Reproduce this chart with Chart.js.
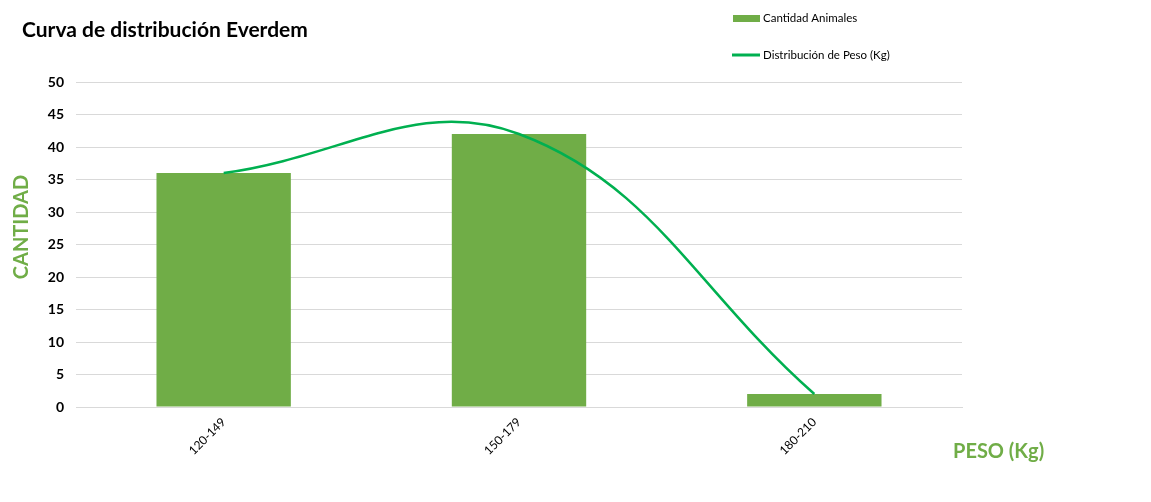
<!DOCTYPE html>
<html>
<head>
<meta charset="utf-8">
<script src="https://cdn.jsdelivr.net/npm/chart.js@4"></script>
<style>
  html, body { margin: 0; padding: 0; background: #fff; }
  #wrap { width: 1151px; height: 502px; position: relative; }
</style>
</head>
<body>
<div id="wrap"><canvas id="curvaChart" width="1151" height="502"></canvas></div>
<script>
// Datos del grafico
const categorias = ['120-149', '150-179', '180-210'];
const cantidadAnimales = [36, 42, 2];
const distribucionPeso = [36, 42, 2];
const yTicks = [0, 5, 10, 15, 20, 25, 30, 35, 40, 45, 50];

const verde = '#70AD47';
const verdeLinea = '#00B050';
const fuente = 'Lato, "Liberation Sans", sans-serif';

// Textos fuera del area: titulo, leyenda, titulos de ejes
const textosPlugin = {
    id: 'textos',
    afterDraw(chart) {
        const c = chart.ctx;
        c.save();
        c.textBaseline = 'middle';
        c.textAlign = 'left';

        c.fillStyle = '#000';
        c.font = 'bold 21px ' + fuente;
        c.fillText('Curva de distribución Everdem', 22, 30);

        // leyenda
        c.fillStyle = verde;
        c.fillRect(733, 15, 27, 7);
        c.strokeStyle = verdeLinea;
        c.lineWidth = 3;
        c.beginPath();
        c.moveTo(732, 55);
        c.lineTo(760, 55);
        c.stroke();
        c.fillStyle = '#000';
        c.font = '11.5px ' + fuente;
        c.fillText(chart.data.datasets[0].label, 763, 18);
        c.fillText(chart.data.datasets[1].label, 763, 55);

        // titulos de ejes
        c.fillStyle = verde;
        c.font = 'bold 20px ' + fuente;
        c.fillText('PESO (Kg)', 953, 452);
        c.translate(22, 227);
        c.rotate(-Math.PI / 2);
        c.textAlign = 'center';
        c.fillText('CANTIDAD', 0, 0);
        c.restore();
    }
};

const ctx = document.getElementById('curvaChart').getContext('2d');
const curvaChart = new Chart(ctx, {
    type: 'bar',
    data: {
        labels: categorias,
        datasets: [{
            label: 'Cantidad Animales',
            data: cantidadAnimales,
            backgroundColor: verde,
            barPercentage: 0.455,
            categoryPercentage: 1,
            order: 2
        }, {
            type: 'line',
            label: 'Distribución de Peso (Kg)',
            data: distribucionPeso,
            borderColor: verdeLinea,
            borderWidth: 2.5,
            pointRadius: 0,
            tension: 0.4,
            fill: false,
            order: 1
        }]
    },
    options: {
        responsive: false,
        animation: false,
        events: [],
        layout: { padding: { top: 82, right: 189, left: 0, bottom: 0 } },
        plugins: {
            legend: { display: false },
            tooltip: { enabled: false }
        },
        scales: {
            x: {
                grid: { display: false, drawTicks: false },
                border: { color: '#d9d9d9' },
                ticks: {
                    color: '#000',
                    font: { family: fuente, size: 12 },
                    minRotation: 45,
                    maxRotation: 45,
                    padding: 8
                },
                afterFit(scale) { scale.height = 95; }
            },
            y: {
                min: 0,
                max: 50,
                afterBuildTicks(scale) { scale.ticks = yTicks.map(v => ({ value: v })); },
                grid: { color: '#d9d9d9', drawTicks: false },
                border: { display: false },
                ticks: {
                    color: '#000',
                    font: { family: fuente, size: 14, weight: 'bold' },
                    padding: 12
                },
                afterFit(scale) { scale.width = 76; }
            }
        }
    },
    plugins: [textosPlugin]
});
</script>
</body>
</html>
